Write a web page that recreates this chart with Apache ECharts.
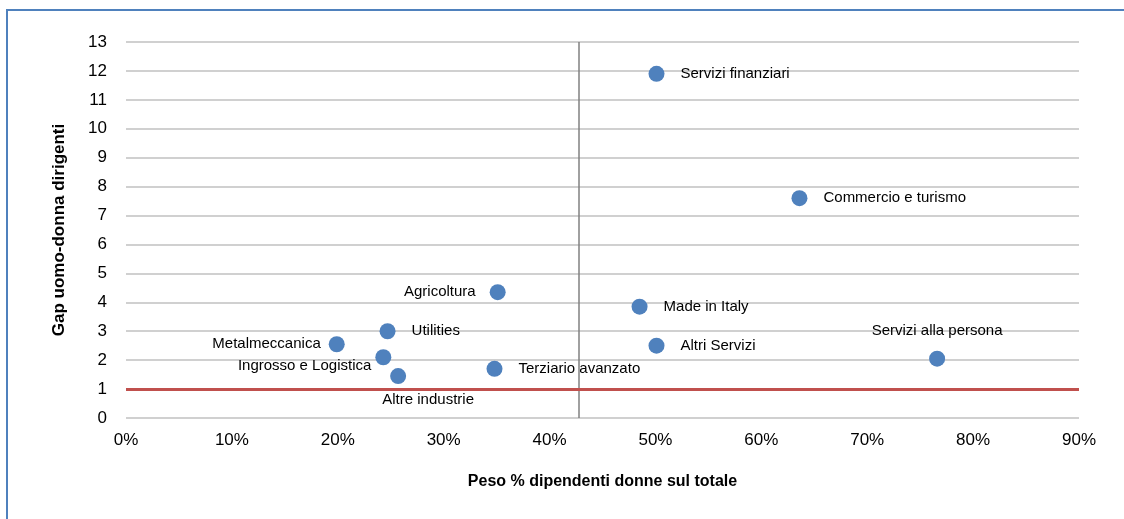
<!DOCTYPE html>
<html>
<head>
<meta charset="utf-8">
<script src="https://cdn.jsdelivr.net/npm/echarts@6/dist/echarts.min.js"></script>
<style>
  html, body { margin: 0; padding: 0; background: #fff; }
  #chart { width: 1124px; height: 519px; }
</style>
</head>
<body>
<div id="chart"></div>
<script>
// settori
var sectors = ['Servizi finanziari', 'Commercio e turismo', 'Agricoltura', 'Made in Italy', 'Utilities',
  'Metalmeccanica', 'Altri Servizi', 'Ingrosso e Logistica', 'Servizi alla persona', 'Altre industrie', 'Terziario avanzato']
// peso % dipendenti donne
var womenShare = [50.1, 63.6, 35.1, 48.5, 24.7, 19.9, 50.1, 24.3, 76.6, 25.7, 34.8]
// gap uomo-donna dirigenti
var gap = [11.9, 7.6, 4.35, 3.85, 3.0, 2.55, 2.5, 2.1, 2.05, 1.45, 1.7]
var avgShare = 42.8
var parity = 1

// dove mettere le etichette
var labelPos = {
  'Agricoltura': { position: 'left', distance: 14 },
  'Metalmeccanica': { position: 'left', distance: 8 },
  'Ingrosso e Logistica': { position: 'left', distance: 4, offset: [0, 9] },
  'Altre industrie': { position: 'bottom', distance: 8, offset: [30, 0] },
  'Servizi alla persona': { position: 'top', distance: 12 }
}

var points = sectors.map(function (name, i) {
  var p = labelPos[name] || { position: 'right', distance: 16 }
  return {
    name: name,
    value: [womenShare[i], gap[i]],
    label: { show: true, position: p.position, distance: p.distance, offset: p.offset || [0, 0] }
  }
})

var chart = echarts.init(document.getElementById('chart'))
chart.setOption({
  animation: false,
  textStyle: { fontFamily: 'Liberation Sans, Arial, sans-serif' },
  graphic: [{
    type: 'rect',
    shape: { x: 7, y: 10, width: 1300, height: 700 },
    style: { fill: 'none', stroke: '#4f81bd', lineWidth: 2 },
    silent: true
  }],
  grid: { left: 126, right: 45, top: 42, bottom: 101 },
  xAxis: {
    type: 'value',
    min: 0,
    max: 90,
    interval: 10,
    name: 'Peso % dipendenti donne sul totale',
    nameLocation: 'middle',
    nameGap: 56,
    nameTextStyle: { fontSize: 16, fontWeight: 'bold', color: '#000' },
    axisLine: { show: false },
    axisTick: { show: false },
    splitLine: { show: false },
    axisLabel: { formatter: '{value}%', fontSize: 17, color: '#000', margin: 14 }
  },
  yAxis: {
    type: 'value',
    min: 0,
    max: 13,
    interval: 1,
    name: 'Gap uomo-donna dirigenti',
    nameLocation: 'middle',
    nameGap: 58,
    nameTextStyle: { fontSize: 17, fontWeight: 'bold', color: '#000' },
    axisLine: { show: false },
    axisTick: { show: false },
    axisLabel: { fontSize: 17, color: '#000', margin: 19 },
    splitLine: { lineStyle: { color: '#c0c0c0', width: 1.5 } }
  },
  series: [{
    type: 'scatter',
    symbolSize: 16,
    itemStyle: { color: '#4f81bd', opacity: 1 },
    label: {
      formatter: '{b}',
      fontSize: 15,
      color: '#000',
      opacity: 1
    },
    data: points,
    markLine: {
      silent: true,
      symbol: 'none',
      label: { show: false },
      data: [
        { xAxis: avgShare, lineStyle: { color: '#808080', width: 1.5, type: 'solid' } },
        { yAxis: parity, lineStyle: { color: '#c0504d', width: 3, type: 'solid' } }
      ]
    }
  }]
})
</script>
</body>
</html>
